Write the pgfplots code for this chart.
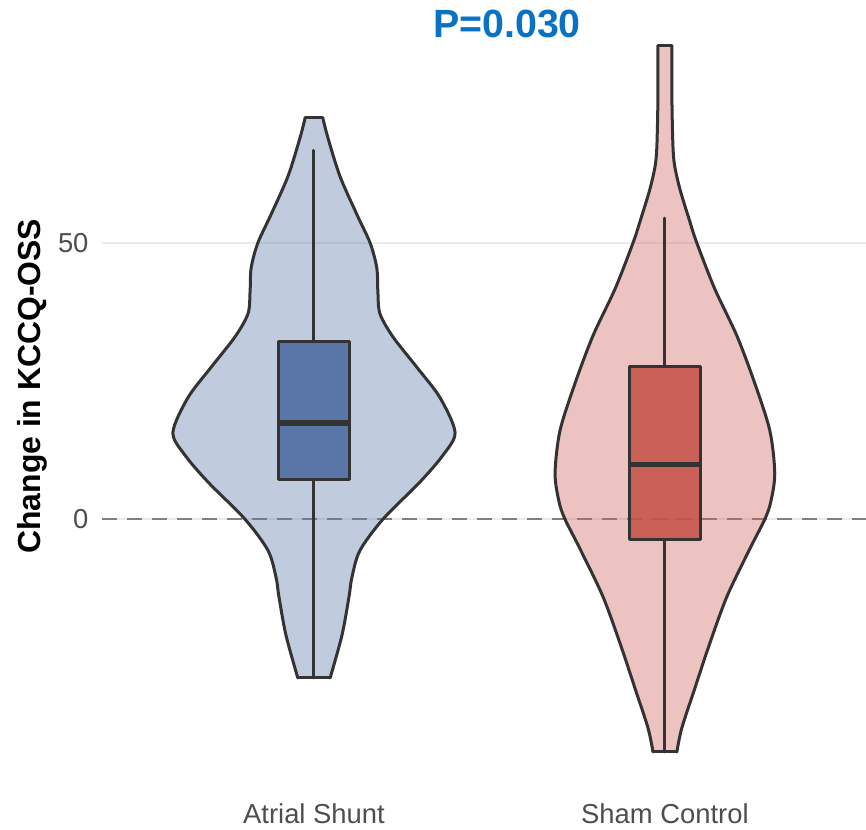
\documentclass[border=0pt]{standalone}
\usepackage{fontspec}
\setmainfont{Liberation Sans}
\usepackage{pgfplots}
\usepackage{pgfplotstable}
\pgfplotsset{compat=1.18}
\usepgfplotslibrary{fillbetween}

\definecolor{shuntc}{HTML}{5976A8}
\definecolor{shuntbox}{HTML}{48679F}
\definecolor{shamc}{HTML}{CD6159}
\definecolor{shambox}{HTML}{C64F46}
\definecolor{outl}{HTML}{333333}
\definecolor{pblue}{HTML}{0A72C2}
\definecolor{ticktxt}{HTML}{4D4D4D}
\definecolor{gridc}{HTML}{EBEBEB}
\definecolor{zeroc}{HTML}{808080}

% violin outlines: value v, half width w (x units)
\pgfplotstableread{
v w
72.7 0.025
69.0 0.040
62.1 0.074
55.2 0.122
50.0 0.160
45.5 0.179
41.3 0.182
37.2 0.188
33.0 0.225
27.5 0.293
22.0 0.359
15.7 0.402
11.6 0.368
6.7 0.302
0.0 0.197
-5.7 0.131
-10.6 0.108
-14.0 0.100
-21.0 0.080
-28.8 0.046
}\shunt

\pgfplotstableread{
v w
85.7 0.020
75.9 0.020
67.4 0.023
63.9 0.028
59.7 0.043
54.5 0.068
50.0 0.091
41.7 0.142
33.2 0.205
24.6 0.256
16.0 0.299
8.3 0.313
3.2 0.302
0.0 0.285
-5.4 0.242
-14.0 0.177
-22.5 0.128
-31.1 0.083
-37.9 0.048
-42.2 0.034
}\sham

\begin{document}
\begin{tikzpicture}
\begin{axis}[
  at={(102bp,40bp)}, anchor=south west,
  scale only axis, width=764bp, height=790bp,
  xmin=0.396, xmax=2.573, ymin=-49.09, ymax=94.02,
  xtick={1,2}, xticklabels={Atrial Shunt,Sham Control},
  ytick={0,50},
  ymajorgrids, grid style={color=gridc, line width=2.2bp},
  extra y ticks={0}, extra y tick labels={},
  extra y tick style={grid style={color=zeroc, line width=2.4bp, dash pattern=on 15bp off 10bp}},
  axis line style={draw=none},
  tick style={draw=none},
  tick label style={font=\fontsize{27.5}{32}\selectfont, text=ticktxt},
  xticklabel style={yshift=-10bp},
  yticklabel style={xshift=-10bp},
  /pgf/number format/assume math mode=true,
  ylabel={Change in KCCQ-OSS},
  ylabel style={font=\fontsize{32}{36}\selectfont\bfseries, at={(rel axis cs:-0.091,0.511)}, anchor=center},
  clip=false,
  outline/.style={draw=outl, line width=3bp, line cap=round, line join=round},
]

% Atrial Shunt violin
\addplot[draw=none, smooth, name path=sr] table[x expr={1+\thisrow{w}}, y=v] {\shunt};
\addplot[draw=none, smooth, name path=sl] table[x expr={1-\thisrow{w}}, y=v] {\shunt};
\addplot[fill=shuntc, fill opacity=0.38, draw=none] fill between[of=sr and sl, reverse=true];
\addplot[outline, smooth] table[x expr={1+\thisrow{w}}, y=v] {\shunt};
\addplot[outline, smooth] table[x expr={1-\thisrow{w}}, y=v] {\shunt};
\addplot[outline] coordinates {(0.975,72.7) (1.025,72.7)};
\addplot[outline] coordinates {(0.954,-28.8) (1.046,-28.8)};

% Sham Control violin
\addplot[draw=none, smooth, name path=hr] table[x expr={2+\thisrow{w}}, y=v] {\sham};
\addplot[draw=none, smooth, name path=hl] table[x expr={2-\thisrow{w}}, y=v] {\sham};
\addplot[fill=shamc, fill opacity=0.38, draw=none] fill between[of=hr and hl, reverse=true];
\addplot[outline, smooth] table[x expr={2+\thisrow{w}}, y=v] {\sham};
\addplot[outline, smooth] table[x expr={2-\thisrow{w}}, y=v] {\sham};
\addplot[outline] coordinates {(1.980,85.7) (2.020,85.7)};
\addplot[outline] coordinates {(1.966,-42.2) (2.034,-42.2)};

% Atrial Shunt box: whiskers, box, median
\addplot[outline] coordinates {(1,32.1) (1,66.8)};
\addplot[outline] coordinates {(1,7.2) (1,-28.8)};
\addplot[outline, fill=shuntbox, fill opacity=0.85] coordinates {(0.9,7.2) (1.1,7.2) (1.1,32.1) (0.9,32.1)} -- cycle;
\addplot[draw=outl, line width=5.5bp] coordinates {(0.9,17.4) (1.1,17.4)};

% Sham Control box
\addplot[outline] coordinates {(2,27.7) (2,54.5)};
\addplot[outline] coordinates {(2,-3.8) (2,-42.2)};
\addplot[outline, fill=shambox, fill opacity=0.85] coordinates {(1.898,-3.8) (2.102,-3.8) (2.102,27.7) (1.898,27.7)} -- cycle;
\addplot[draw=outl, line width=5.5bp] coordinates {(1.898,9.9) (2.102,9.9)};

\node[font=\fontsize{39.5}{44}\selectfont\bfseries, text=pblue] at (axis cs:1.55,89.67) {P=0.030};
\end{axis}
\pgfresetboundingbox
\useasboundingbox (0,0) rectangle (866bp,830bp);
\end{tikzpicture}
\end{document}
